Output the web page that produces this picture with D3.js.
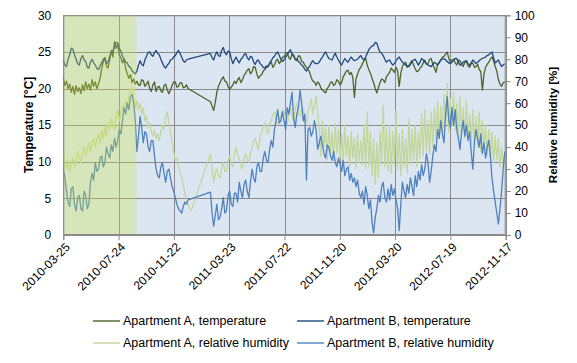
<!DOCTYPE html>
<html><head><meta charset="utf-8">
<script src="https://cdn.jsdelivr.net/npm/d3@7"></script>
<style>body{margin:0;background:#fff} svg{display:block} text{font-family:"Liberation Sans",Arial,sans-serif;fill:#000}</style>
</head><body><svg id="c" width="577" height="363"></svg>
<script>
// ---- data ----
const startDate = "2010-03-25";
const endDate = "2012-11-17";
const stepHours = 84;   // one reading every 3.5 days from startDate
const shadeEnd = "2010-09-01";
const tickLabels = ["2010-03-25","2010-07-24","2010-11-22","2011-03-23","2011-07-22","2011-11-20","2012-03-20","2012-07-19","2012-11-17"];
const tempTicks = [0,5,10,15,20,25,30];
const humTicks = [0,10,20,30,40,50,60,70,80,90,100];
const seriesNames = ["Apartment A, temperature","Apartment B, temperature","Apartment A, relative humidity","Apartment B, relative humidity"];
const seriesColors = ["#4f6228","#1f497d","#c3d69b","#4f81bd"];

const aTemp = [21.5,20.4,21.0,20.0,20.6,19.5,20.3,19.2,20.4,19.6,20.1,19.3,20.5,19.7,20.9,20.0,20.6,19.8,21.2,20.3,20.9,20.0,20.6,21.4,
22.8,23.6,24.2,23.1,22.8,24.0,25.2,24.3,26.4,25.5,26.0,24.6,24.2,23.5,24.1,22.7,22.0,21.4,21.9,20.8,21.3,20.6,
21.0,20.5,20.4,21.2,21.1,20.3,20.6,21.0,20.0,19.6,20.5,20.9,19.6,20.2,20.3,19.7,19.5,20.4,20.6,19.8,19.3,19.8,20.4,20.9,20.9,20.2,20.3,20.8,20.8,20.1,20.2,20.5,20.0,
null,null,null,null,null,null,null,null,null,null,null,null,null,
18.2,17.6,17.0,18.1,19.5,20.3,20.8,21.3,21.6,21.0,20.9,20.3,19.9,20.2,20.5,21.0,20.7,21.2,21.5,20.8,21.2,21.8,22.1,22.5,22.7,22.0,22.3,23.0,22.9,22.0,21.4,21.7,21.9,22.4,22.6,22.9,23.0,23.4,23.6,22.9,23.2,23.8,24.0,23.4,23.7,24.3,
24.3,24.8,24.9,24.2,24.0,24.7,24.6,23.9,23.8,24.5,24.4,23.7,23.6,23.2,22.9,22.6,22.2,21.5,21.0,20.9,20.4,20.9,20.7,20.1,19.8,19.6,19.4,20.0,20.3,20.8,20.9,20.4,20.6,21.2,21.0,20.5,20.8,21.6,22.0,22.4,22.5,21.9,22.2,21.5,18.8,21.3,22.0,22.6,22.9,
23.4,23.8,24.2,23.2,22.6,22.1,21.4,20.8,20.0,19.4,20.1,20.8,21.3,21.2,20.8,21.6,21.9,22.2,22.8,22.5,
22.2,22.9,22.4,20.3,22.1,23.0,23.4,23.6,22.9,23.1,23.5,23.8,23.2,22.7,22.3,22.4,22.8,23.0,23.5,23.9,
23.3,23.4,24.0,24.1,23.3,22.8,22.2,23.3,23.6,23.9,24.3,24.4,24.7,25.0,24.1,23.6,23.9,24.0,23.5,23.2,
23.9,23.8,23.3,23.0,23.6,23.7,23.1,22.9,23.4,23.5,22.9,23.0,23.3,22.6,22.3,19.8,22.0,22.9,23.3,23.6,
24.0,24.3,23.8,23.0,22.4,21.2,20.6,20.3,20.8,20.9];

const bTemp = [23.9,23.2,23.0,24.0,24.6,25.5,25.4,24.6,24.0,23.4,23.2,24.1,24.5,23.9,23.7,22.9,22.8,23.6,24.0,23.5,23.2,22.7,22.6,23.1,
23.5,24.0,24.2,23.4,23.6,24.4,24.8,25.2,25.6,26.3,26.2,25.5,25.1,24.4,24.0,23.6,23.5,23.0,22.9,22.4,22.2,22.0,
22.4,23.2,23.8,23.3,23.1,23.9,24.4,24.9,25.0,24.6,24.4,24.9,25.2,24.8,24.6,24.0,23.5,23.0,22.8,23.2,23.4,23.9,24.0,24.3,24.5,24.9,25.2,24.8,24.3,23.8,23.6,23.9,24.0,
null,null,null,null,null,null,null,null,null,null,null,null,null,
24.8,24.2,23.9,24.6,25.0,24.5,24.4,25.2,25.6,24.9,24.6,25.1,25.0,24.1,23.4,23.9,24.3,23.8,23.5,24.0,24.2,24.6,24.8,24.2,23.9,24.4,24.3,23.6,23.3,23.8,23.9,23.4,23.2,22.9,22.8,23.1,23.0,23.5,23.8,24.2,24.4,24.8,25.0,24.5,24.0,23.7,
23.9,24.3,24.6,25.0,25.3,24.7,24.4,24.1,24.0,23.7,23.5,23.2,23.0,22.6,22.4,22.8,23.0,23.5,23.8,23.5,23.4,23.4,23.6,24.0,24.3,24.7,25.0,24.5,24.1,24.0,23.9,24.4,24.8,24.3,23.9,23.5,23.2,23.7,24.1,23.8,23.6,24.0,24.3,24.0,23.8,23.9,24.0,24.3,24.5,
24.1,23.9,24.3,24.8,25.3,25.6,25.8,25.9,26.3,26.2,25.5,25.0,24.8,24.5,24.0,23.6,23.8,23.9,23.5,23.2,
23.4,23.8,24.1,24.3,23.9,23.6,23.4,23.2,23.1,23.0,23.3,23.7,23.9,24.0,23.6,23.2,23.6,24.1,23.9,23.6,
23.4,23.2,23.1,23.0,23.3,23.6,23.4,23.2,23.5,23.9,24.0,24.1,23.9,23.7,23.5,23.4,23.6,23.9,24.1,24.1,
23.6,23.2,23.3,23.6,23.7,23.8,23.4,23.2,23.5,23.9,23.7,23.4,23.6,23.8,24.0,24.1,24.2,24.3,24.5,24.6,
24.8,25.0,24.2,23.5,23.7,23.9,23.4,23.0,23.2,23.4];

const aHum = [36,33,30,34,29,32,35,31,34,38,35,33,37,40,36,39,42,38,41,44,40,43,46,42,
47,44,49,45,51,48,53,50,48,54,57,52,55,59,56,61,58,63,66,67,62,58,
61,57,60,55,58,52,54,49,51,47,45,48,44,46,43,47,50,48,54,56,51,47,42,38,34,35,31,29,26,23,19,16,14,12,11,
null,null,null,null,null,null,null,null,null,null,null,
37,30,24,28,30,27,26,31,33,29,29,34,36,32,31,37,40,36,35,32,30,35,37,34,33,37,40,43,44,41,39,45,47,49,51,48,46,50,52,55,56,52,50,53,54,57,
56,53,50,55,58,54,52,57,60,55,54,58,57,53,51,56,59,62,55,59,63,56,
48,36,52,40,49,34,50,38,47,33,51,37,48,35,46,32,50,36,45,31,47,35,44,30,46,33,43,
32,50,30,56,31,47,27,44,23,42,26,47,32,59,31,49,29,50,28,47,
32,57,30,46,27,48,31,44,28,53,32,48,34,50,31,47,35,55,36,57,
38,52,37,56,40,58,43,61,44,59,46,64,49,69,47,62,50,65,48,60,
46,63,47,58,44,61,45,55,42,57,41,54,40,56,38,52,39,50,36,48,
35,47,33,45,34,44,31,40,32,36];

const bHum = [30,26,20,15,13,21,22,14,11,17,18,12,11,20,18,12,14,24,28,25,33,29,30,35,
36,31,33,40,37,35,41,38,44,40,43,48,46,52,58,55,60,57,63,64,60,52,
38,45,54,49,42,47,46,40,38,43,43,36,30,27,26,31,33,28,24,29,30,26,22,20,17,14,12,11,10,13,15,14,16,
null,null,null,null,null,null,null,null,null,null,null,null,null,
19.5,10,4,9,14,7,8,12,17,10,11,18,20,14,13,19,19,15,24,20,17,23,25,20,17,24,30,26,24,31,33,29,29,35,38,34,33,39,43,40,48,52,57,51,52,56,
52,48,58,55,60,65,53,49,55,58,66,60,52,55,25,48,49,45,47,52,48,39,42,45,41,37,35,41,40,36,34,38,33,31,35,32,29,34,27,30,31,25,28,24,26,22,25,19,17,
20,14,22,18,12,16,6,1,8,12,18,15,22,24,17,15,21,16,23,18,
21,16,12,2,14,24,20,17,23,19,26,22,18,27,22,29,25,32,27,30,
37,33,24,29,36,41,38,48,44,52,46,42,55,63,52,49,58,50,57,48,
44,39,47,52,45,50,43,47,38,30,42,48,44,40,46,37,42,35,40,43,
36,26,20,15,10,5,12,20,30,38];

// ---- chart ----
const parse = d3.utcParse("%Y-%m-%d");
const t0 = parse(startDate);
function toPoints(vals){
  return vals.map((v,i)=>({d:d3.utcHour.offset(t0,i*stepHours), v:v})).filter(p=>p.v!=null);
}
const M = {l:63.3, r:505.7, t:15.3, b:235};
const x = d3.scaleUtc().domain([t0, parse(endDate)]).range([M.l, M.r]);
const yT = d3.scaleLinear().domain([0,30]).range([M.b, M.t]);
const yH = d3.scaleLinear().domain([0,100]).range([M.b, M.t]);
const svg = d3.select("#c");
const grid = "#8a8a8a";

svg.append("rect").attr("x",M.l).attr("y",M.t).attr("width",M.r-M.l).attr("height",M.b-M.t).attr("fill","#dce6f2");

// gridlines
svg.append("g").selectAll("line").data(tempTicks).join("line")
  .attr("x1",M.l).attr("x2",M.r).attr("y1",d=>Math.round(yT(d))+0.5).attr("y2",d=>Math.round(yT(d))+0.5)
  .attr("stroke",grid).attr("stroke-width",1);
svg.append("g").selectAll("line").data(tickLabels.map(parse)).join("line")
  .attr("y1",M.t).attr("y2",M.b).attr("x1",d=>Math.round(x(d))+0.5).attr("x2",d=>Math.round(x(d))+0.5)
  .attr("stroke",grid).attr("stroke-width",1);

// series
const lineT = d3.line().x(p=>x(p.d)).y(p=>yT(p.v));
const lineH = d3.line().x(p=>x(p.d)).y(p=>yH(p.v));
const series = [
  {vals:aTemp, gen:lineT, c:seriesColors[0]},
  {vals:bTemp, gen:lineT, c:seriesColors[1]},
  {vals:aHum, gen:lineH, c:seriesColors[2]},
  {vals:bHum, gen:lineH, c:seriesColors[3]}
];
series.forEach(s=>{
  svg.append("path").attr("d",s.gen(toPoints(s.vals))).attr("fill","none")
    .attr("stroke",s.c).attr("stroke-width",1.3).attr("stroke-linejoin","round");
});

// shaded period overlay
svg.append("rect").attr("x",x(t0)).attr("y",M.t).attr("width",x(parse(shadeEnd))-x(t0)).attr("height",M.b-M.t)
  .attr("fill","rgb(206,226,68)").attr("fill-opacity",0.32);

// border
svg.append("rect").attr("x",M.l+0.5).attr("y",M.t+0.5).attr("width",M.r-M.l-1).attr("height",M.b-M.t-1)
  .attr("fill","none").attr("stroke",grid);

// left axis
const gL = svg.append("g").attr("transform",`translate(${M.l},0)`)
  .call(d3.axisLeft(yT).tickValues(tempTicks).tickSize(0).tickPadding(12).tickFormat(d3.format("d")));
gL.select(".domain").remove();
gL.selectAll("text").style("font-size","12px").attr("fill","#000");

// right axis
const gR = svg.append("g").attr("transform",`translate(${M.r},0)`)
  .call(d3.axisRight(yH).tickValues(humTicks).tickSize(5).tickPadding(4).tickFormat(d3.format("d")));
gR.select(".domain").attr("stroke",grid);
gR.selectAll(".tick line").attr("stroke",grid);
gR.selectAll("text").style("font-size","12px").attr("fill","#000");

// bottom axis
const gB = svg.append("g").attr("transform",`translate(0,${M.b})`)
  .call(d3.axisBottom(x).tickValues(tickLabels.map(parse)).tickSize(5).tickFormat(d3.utcFormat("%Y-%m-%d")));
gB.select(".domain").attr("stroke",grid);
gB.selectAll(".tick line").attr("stroke",grid);
gB.selectAll("text").style("font-size","12px").attr("fill","#000")
  .attr("text-anchor","end").attr("dy",null).attr("y",null)
  .attr("transform","translate(4,10) rotate(-45)").attr("dominant-baseline","central");

// axis titles
svg.append("text").attr("transform",`translate(29,125) rotate(-90)`).attr("text-anchor","middle")
  .attr("dominant-baseline","central").style("font-size","12px").style("font-weight","bold").text("Temperature [°C]");
svg.append("text").attr("transform",`translate(553,125) rotate(-90)`).attr("text-anchor","middle")
  .attr("dominant-baseline","central").style("font-size","11.5px").style("font-weight","bold").text("Relative humidity [%]");

// legend
const legPos = [[93,321],[297,321],[93,343],[297,343]];
seriesNames.forEach((n,i)=>{
  const [lx,ly] = legPos[i];
  svg.append("line").attr("x1",lx).attr("x2",lx+27).attr("y1",ly).attr("y2",ly)
    .attr("stroke",seriesColors[i]).attr("stroke-width",1.4);
  svg.append("text").attr("x",lx+30).attr("y",ly).attr("dominant-baseline","central")
    .style("font-size","12.5px").text(n);
});
</script></body></html>
